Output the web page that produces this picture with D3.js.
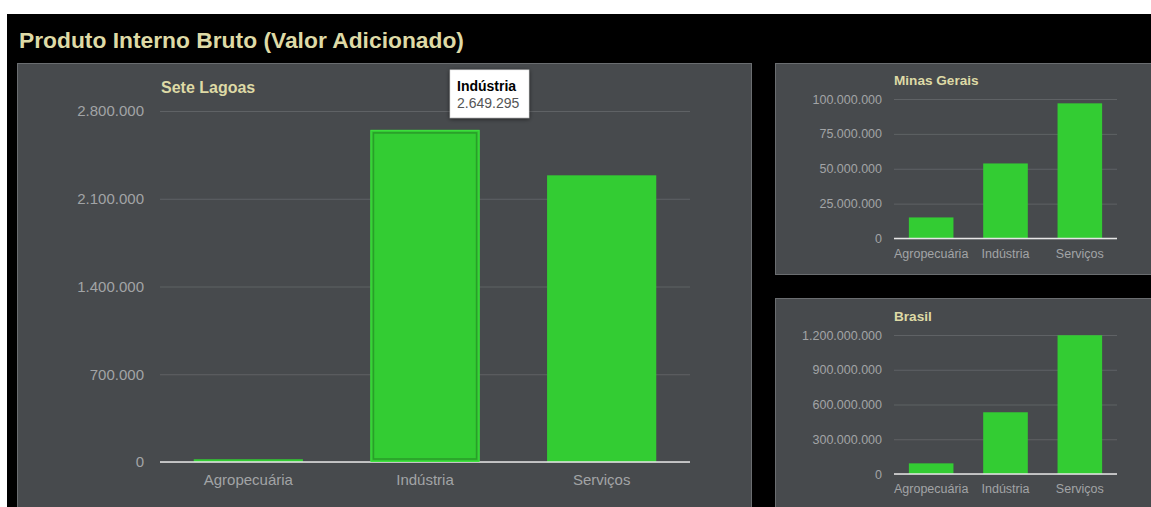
<!DOCTYPE html>
<html>
<head>
<meta charset="utf-8">
<script src="https://cdn.jsdelivr.net/npm/d3@7/dist/d3.min.js"></script>
<style>
  html, body { margin: 0; padding: 0; background: #ffffff; }
  svg { display: block; font-family: "Liberation Sans", Arial, sans-serif; }
</style>
</head>
<body>
<svg id="chart" width="1151" height="507"></svg>
<script>
// PIB por setor (valor adicionado)
const categories = ["Agropecuária", "Indústria", "Serviços"];
const seteLagoasValues = [22000, 2649295, 2287000];
const minasGeraisValues = [15100000, 53800000, 96900000];
const brasilValues = [92000000, 533000000, 1198000000];

const seteLagoasTicks = [0, 700000, 1400000, 2100000, 2800000];
const minasGeraisTicks = [0, 25000000, 50000000, 75000000, 100000000];
const brasilTicks = [0, 300000000, 600000000, 900000000, 1200000000];

const pageTitle = "Produto Interno Bruto (Valor Adicionado)";
const highlighted = "Indústria";

const ptBR = d3.formatLocale({ decimal: ",", thousands: ".", grouping: [3], currency: ["R$", ""] });
const fmt = ptBR.format(",d");

const COLORS = {
  page: "#000000",
  panel: "#474a4d",
  panelBorder: "#6a6d70",
  grid: "#5f6265",
  baseline: "#e6e6e6",
  bar: "#33cc33",
  barEdge: "#2a9e2a",
  title: "#dedaa6",
  tick: "#a2a4a6"
};

const svg = d3.select("#chart");

const defs = svg.append("defs");
const shadow = defs.append("filter").attr("id", "tipShadow")
  .attr("x", "-20%").attr("y", "-20%").attr("width", "140%").attr("height", "140%");
shadow.append("feDropShadow").attr("dx", 0).attr("dy", 1)
  .attr("stdDeviation", 2).attr("flood-color", "#000").attr("flood-opacity", 0.6);

// dark page area
svg.append("rect").attr("x", 7).attr("y", 14).attr("width", 1151).attr("height", 507)
  .attr("fill", COLORS.page);

svg.append("text")
  .attr("x", 19).attr("y", 48)
  .attr("font-size", 22.8).attr("font-weight", "bold")
  .attr("fill", COLORS.title)
  .text(pageTitle);

function panel(x, y, w, h) {
  svg.append("rect")
    .attr("x", x + 0.5).attr("y", y + 0.5).attr("width", w).attr("height", h)
    .attr("fill", COLORS.panel).attr("stroke", COLORS.panelBorder).attr("stroke-width", 1);
}

function barChart(opts) {
  const { left, right, top, bottom, values, ticks, name, tickSize, labelSize,
          titleSize, titleY, labelY, tickGap, pad, titleX } = opts;

  const x = d3.scaleBand().domain(categories).range([left, right])
    .paddingInner(pad).paddingOuter(pad / 2);
  const y = d3.scaleLinear().domain([ticks[0], ticks[ticks.length - 1]]).range([bottom, top]);

  const g = svg.append("g");

  // gridlines + tick labels
  const yAxis = g.append("g")
    .attr("transform", `translate(${left},0)`)
    .call(d3.axisLeft(y).tickValues(ticks).tickFormat(fmt)
      .tickSize(-(right - left)).tickPadding(tickGap));
  yAxis.select(".domain").remove();
  yAxis.selectAll(".tick line").attr("stroke", COLORS.grid).attr("stroke-width", 1);
  yAxis.selectAll(".tick text")
    .attr("fill", COLORS.tick).attr("font-size", tickSize)
    .attr("font-family", "'Liberation Sans', Arial, sans-serif");

  // bars
  g.selectAll("rect.bar").data(categories).join("rect")
    .attr("class", "bar")
    .attr("x", d => x(d))
    .attr("y", (d, i) => y(values[i]))
    .attr("width", x.bandwidth())
    .attr("height", (d, i) => y(0) - y(values[i]))
    .attr("fill", COLORS.bar);

  // baseline
  g.append("line")
    .attr("x1", left).attr("x2", right)
    .attr("y1", y(0)).attr("y2", y(0))
    .attr("stroke", COLORS.baseline).attr("stroke-width", 1.5);

  // category labels
  g.selectAll("text.cat").data(categories).join("text")
    .attr("class", "cat")
    .attr("x", d => x(d) + x.bandwidth() / 2)
    .attr("y", labelY)
    .attr("text-anchor", "middle")
    .attr("font-size", labelSize)
    .attr("fill", COLORS.tick)
    .text(d => d);

  // chart title
  g.append("text")
    .attr("x", titleX).attr("y", titleY)
    .attr("font-size", titleSize).attr("font-weight", "bold")
    .attr("fill", COLORS.title)
    .text(name);

  return { x, y, g };
}

// panels
panel(17, 63, 734, 460);
panel(775, 63, 390, 211);
panel(775, 298, 390, 230);

const main = barChart({
  left: 160, right: 690, top: 111, bottom: 462,
  values: seteLagoasValues, ticks: seteLagoasTicks, name: "Sete Lagoas",
  tickSize: 15, labelSize: 15, titleSize: 16, titleX: 161, titleY: 93,
  labelY: 485, tickGap: 16, pad: 0.382
});

barChart({
  left: 894, right: 1117, top: 99, bottom: 238.5,
  values: minasGeraisValues, ticks: minasGeraisTicks, name: "Minas Gerais",
  tickSize: 12.5, labelSize: 12.5, titleSize: 13.6, titleX: 894, titleY: 85,
  labelY: 258, tickGap: 12, pad: 0.4
});

barChart({
  left: 894, right: 1117, top: 335, bottom: 474,
  values: brasilValues, ticks: brasilTicks, name: "Brasil",
  tickSize: 12.5, labelSize: 12.5, titleSize: 13.6, titleX: 894, titleY: 321,
  labelY: 493, tickGap: 12, pad: 0.4
});

// hover state on the highlighted bar
const hi = categories.indexOf(highlighted);
const hx = main.x(highlighted), hw = main.x.bandwidth();
const hy = main.y(seteLagoasValues[hi]), hb = main.y(0);
main.g.append("rect")
  .attr("x", hx + 0.5).attr("y", hy + 0.5)
  .attr("width", hw - 1).attr("height", hb - hy - 1)
  .attr("fill", "none").attr("stroke", "#3fe03f").attr("stroke-width", 1);
main.g.append("rect")
  .attr("x", hx + 3).attr("y", hy + 3)
  .attr("width", hw - 6).attr("height", hb - hy - 6)
  .attr("fill", "none").attr("stroke", COLORS.barEdge).attr("stroke-width", 1.6);

// tooltip
const tipX = hx + hw / 2 + 25, tipY = hy - 60;
const tip = svg.append("g").attr("transform", `translate(${tipX},${tipY})`);
tip.append("rect")
  .attr("width", 79).attr("height", 48)
  .attr("fill", "#ffffff").attr("stroke", "#cccccc").attr("stroke-width", 0.5)
  .attr("filter", "url(#tipShadow)");
tip.append("text")
  .attr("x", 7).attr("y", 21)
  .attr("font-size", 14).attr("font-weight", "bold").attr("fill", "#000000")
  .text(highlighted);
tip.append("text")
  .attr("x", 7).attr("y", 38)
  .attr("font-size", 14).attr("fill", "#555555")
  .text(fmt(seteLagoasValues[hi]));
</script>
</body>
</html>
